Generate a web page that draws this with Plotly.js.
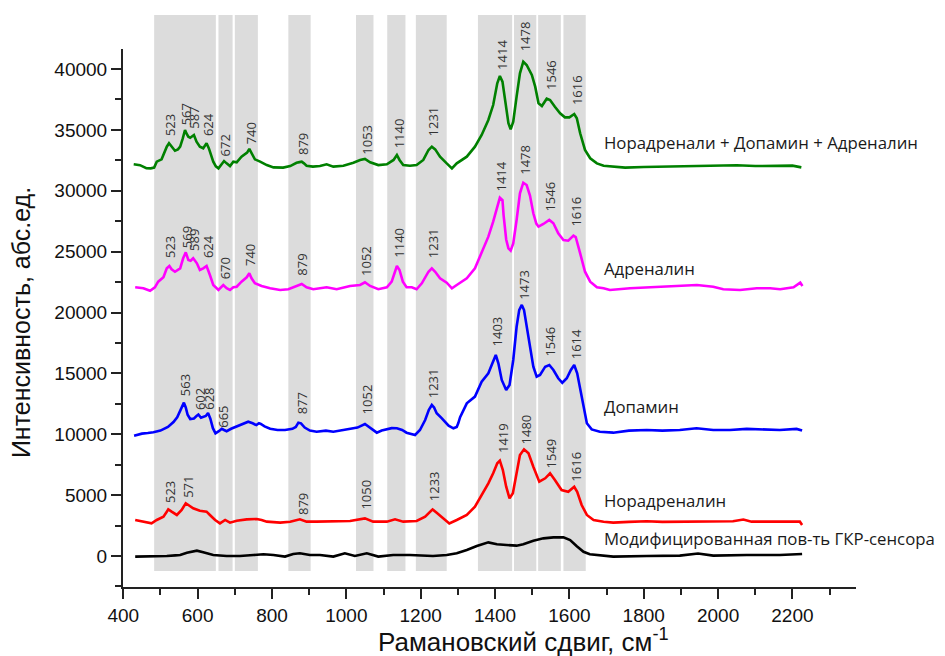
<!DOCTYPE html>
<html>
<head>
<meta charset="utf-8">
<script src="https://cdn.plot.ly/plotly-3.0.1.min.js"></script>
<style>html,body{margin:0;padding:0;background:#fff;}#chart{width:945px;height:656px;}</style>
</head>
<body>
<div id="chart"></div>
<script>
// ---- Data ----
const greenX = [428,445,462,474,483,490,503,512,517,523,530,539,547,553,560,566,570,575,580,584,590,597,606,615,620,624,630,636,642,649,656,665,671,678,687,696,705,718,728,733,739,745,754,768,786,804,830,849,866,874,880,886,893,910,929,947,965,992,1019,1037,1050,1064,1086,1109,1127,1136,1143,1153,1171,1189,1207,1221,1230,1239,1252,1270,1284,1297,1324,1346,1364,1382,1395,1406,1413,1420,1427,1436,1442,1449,1458,1467,1476,1485,1499,1508,1517,1526,1539,1548,1561,1575,1588,1600,1613,1620,1629,1642,1656,1674,1692,1718,1750,1800,1850,1900,1950,2000,2050,2100,2150,2200,2224];
const greenY = [32170,32100,31850,31840,31900,32390,32580,33300,33620,33900,33620,33290,33400,33620,34300,34990,34700,34440,34350,34440,34580,34030,33620,33490,33700,33900,33500,32900,32390,32000,31840,32200,32440,32250,32030,32390,32330,32800,33000,33130,33430,33070,32580,32390,32110,31920,31900,32030,32300,32350,32390,32250,32060,31980,32030,32170,31980,32060,32300,32530,32610,32340,32110,32170,32530,32940,32530,32110,32060,32110,32530,33350,33620,33400,32800,32250,31840,32250,32800,33620,34580,35810,37040,38830,39430,38960,37450,35540,35040,35670,37730,39640,40600,40330,39510,38550,37180,36960,37560,37450,36900,36360,36030,36030,36300,35950,34720,33350,32670,32250,32060,31980,31900,31950,31980,32000,32080,32110,32100,32030,32020,32060,31920];

const magentaX = [432,454,472,485,494,508,517,524,530,539,553,561,568,575,581,588,598,606,615,624,633,642,656,665,669,678,687,696,705,718,732,739,745,754,772,795,822,844,866,880,893,911,947,974,1010,1037,1050,1064,1086,1109,1122,1136,1143,1152,1162,1176,1189,1203,1221,1230,1239,1252,1270,1284,1297,1324,1346,1364,1382,1395,1406,1413,1420,1423,1430,1436,1442,1449,1458,1467,1476,1485,1494,1503,1511,1517,1530,1546,1557,1570,1584,1597,1611,1617,1629,1642,1656,1674,1692,1709,1763,1826,1880,1943,1987,2014,2059,2104,2140,2167,2203,2221,2227];
const magentaY = [22070,21990,21790,22070,22530,22890,23630,23820,23550,23350,23630,24450,24940,24310,24250,24450,24040,23490,23630,23820,23080,22260,21850,22120,22260,21990,21850,22070,22120,22530,22890,23220,22810,22400,22180,21990,21850,21910,22180,22340,22070,21910,22070,21910,22180,22260,22480,22180,21910,22070,22530,23820,23490,22530,22070,22070,21910,22400,23350,23630,23350,22810,22450,21990,22260,22810,23630,24860,26230,27460,28690,29430,29240,28000,26000,25270,25080,25680,27600,29790,30660,30470,29600,28150,27300,27050,27270,27600,27330,26500,25950,25900,26310,26200,24860,23350,22530,22070,21990,21850,21990,22070,22120,22260,22120,21910,21850,21990,21990,21910,22070,22450,22180];

const blueX = [429,450,466,481,500,508,520,526,535,545,552,558,563,568,573,580,590,597,602,609,616,622,628,634,641,648,657,665,671,678,690,703,718,728,736,748,758,765,770,780,795,815,835,855,864,871,878,888,902,920,945,965,990,1010,1030,1050,1065,1082,1095,1109,1122,1136,1150,1162,1178,1185,1198,1212,1222,1230,1236,1243,1257,1265,1275,1288,1297,1301,1306,1324,1346,1364,1382,1391,1402,1409,1418,1430,1439,1449,1458,1465,1472,1478,1485,1494,1503,1512,1521,1535,1546,1557,1570,1581,1593,1604,1613,1621,1631,1640,1647,1660,1682,1718,1760,1808,1850,1897,1942,1987,2032,2077,2122,2166,2211,2226];
const blueY = [9880,10050,10100,10160,10300,10400,10600,10760,11000,11400,11900,12300,12600,12200,11600,11250,11300,11500,11620,11350,11400,11500,11750,11300,10500,10080,10250,10450,10350,10250,10450,10600,10800,10900,11030,10900,10750,10900,10850,10650,10450,10350,10350,10450,10600,10950,10900,10550,10300,10210,10300,10210,10350,10490,10550,10840,10500,10130,10300,10410,10500,10490,10350,10130,10000,9940,10350,11170,12000,12400,12200,11720,11310,11000,10700,10490,10600,10900,11400,12540,13090,14320,15010,15690,16510,15830,14460,13630,14050,16100,18830,20200,20620,20200,18830,16920,15550,14730,14870,15550,15690,15280,14600,14230,14600,15280,15690,15010,13360,11720,10900,10400,10210,10130,10300,10350,10300,10350,10490,10350,10350,10440,10390,10350,10440,10300];

const redX = [432,454,476,490,508,517,521,530,544,557,568,575,588,606,624,633,647,660,674,687,705,732,759,772,786,822,849,875,893,920,965,1010,1050,1072,1109,1131,1153,1189,1212,1224,1232,1243,1261,1277,1297,1324,1346,1364,1382,1395,1406,1413,1421,1430,1439,1448,1457,1467,1478,1490,1503,1519,1535,1548,1561,1579,1597,1613,1621,1633,1647,1665,1692,1718,1760,1808,1850,1900,1950,2000,2040,2068,2090,2130,2170,2220,2226];
const redY = [2960,2820,2680,2960,3230,3640,3830,3640,3370,3780,4330,4190,3920,3720,3640,3370,2960,2680,2960,2740,2900,3010,3040,2960,2820,2740,2820,3010,2820,2820,2820,2880,3090,2820,2820,3010,2820,2880,3230,3600,3830,3560,3090,2680,2960,3370,4050,5010,5970,6790,7610,7830,7060,5690,4740,5150,6790,8300,8760,8440,7330,6100,6380,6790,6240,5420,5280,5690,5280,4190,3370,2960,2820,2740,2800,2850,2800,2820,2780,2800,2850,3000,2820,2820,2800,2820,2550];

const blackX = [432,472,517,540,553,571,590,598,615,642,678,714,750,777,804,835,857,875,902,929,965,996,1023,1055,1086,1126,1171,1233,1270,1297,1324,1351,1382,1405,1431,1458,1476,1503,1530,1557,1584,1602,1620,1638,1655,1682,1718,1808,1897,1946,1987,2077,2166,2226];
const blackY = [-50,-50,0,50,80,270,420,440,300,80,0,0,80,140,80,-50,160,220,80,80,-50,220,0,220,-50,80,80,0,80,220,490,820,1120,960,900,850,960,1260,1450,1530,1530,1310,800,350,150,40,-50,0,30,200,30,80,80,160];

// Shaded bands (Raman shift ranges)
const bandStart = [483,656,700,844,1026,1110,1187,1354,1451,1516,1584];
const bandEnd   = [649,694,762,904,1073,1159,1270,1446,1511,1577,1644];

// Peak labels: position and label-bottom intensity
const greenPeaks  = [523,567,587,624,672,740,879,1053,1140,1231,1414,1478,1546,1616];
const greenPeakY  = [34330,35240,34910,34330,32690,33620,32800,32800,33350,34310,39780,41290,38140,36900];
const magentaPeaks = [523,569,589,624,670,740,879,1052,1140,1231,1414,1478,1546,1616];
const magentaPeakY = [24310,25130,24860,24310,22530,23630,22890,22810,24370,24310,29790,31150,28150,26920];
const bluePeaks  = [563,602,628,665,877,1052,1231,1403,1473,1546,1614];
const bluePeakY  = [12950,11850,11850,10350,11440,11440,12810,17060,20890,16240,15960];
const redPeaks   = [523,571,879,1050,1233,1419,1480,1549,1616];
const redPeakY   = [4190,4600,3230,3640,4330,8300,8980,7060,5970];

// Series names and label positions
const seriesNames = ['Норадренали + Допамин + Адреналин','Адреналин','Допамин','Норадреналин','Модифицированная пов-ть ГКР-сенсора'];
const seriesLabelX = [1688,1688,1688,1688,1688];
const seriesLabelY = [33950,23630,12260,4600,1450];
const seriesColors = ['#008000','#ff00ff','#0000ff','#ff0000','#000000'];

const xTitle = 'Рамановский сдвиг, см<sup>-1</sup>';
const yTitle = 'Интенсивность, абс.ед.';

// ---- Traces ----
const seriesData = [[greenX,greenY],[magentaX,magentaY],[blueX,blueY],[redX,redY],[blackX,blackY]];
const traces = seriesData.map((d,i) => ({
  x: d[0], y: d[1], type: 'scatter', mode: 'lines',
  line: {color: seriesColors[i], width: 2.6},
  name: seriesNames[i], showlegend: false, hoverinfo: 'x+y'
}));

const shapes = bandStart.map((s,i) => ({
  type: 'rect', xref: 'x', yref: 'paper', x0: s, x1: bandEnd[i], y0: 0.0297, y1: 1.063,
  fillcolor: '#dcdcdc', line: {width: 0}, layer: 'below'
}));

const annotations = [];
const peakSets = [[greenPeaks,greenPeakY],[magentaPeaks,magentaPeakY],[bluePeaks,bluePeakY],[redPeaks,redPeakY]];
peakSets.forEach(ps => {
  ps[0].forEach((p,i) => {
    annotations.push({
      x: p, y: ps[1][i], xref: 'x', yref: 'y', text: String(p), showarrow: false,
      textangle: -90, xanchor: 'center', yanchor: 'bottom', xshift: 1,
      font: {family: 'Open Sans, sans-serif', size: 13, color: '#333'}
    });
  });
});
seriesNames.forEach((n,i) => {
  annotations.push({
    x: seriesLabelX[i], y: seriesLabelY[i], xref: 'x', yref: 'y', text: n, showarrow: false,
    xanchor: 'left', yanchor: 'middle',
    font: {family: 'Open Sans, sans-serif', size: 16.8, color: '#1a1a1a'}
  });
});
annotations.push({
  x: 0.547, y: -0.099, xref: 'paper', yref: 'paper', text: xTitle, showarrow: false,
  xanchor: 'center', yanchor: 'middle',
  font: {family: 'Liberation Sans, Arial, sans-serif', size: 26, color: '#111'}
});
annotations.push({
  x: -0.139, y: 0.4907, xref: 'paper', yref: 'paper', text: yTitle, showarrow: false,
  textangle: -90, xanchor: 'center', yanchor: 'middle',
  font: {family: 'Liberation Sans, Arial, sans-serif', size: 25, color: '#111'}
});

const axisCommon = {
  showline: true, linecolor: '#222', linewidth: 2, mirror: false,
  ticks: 'outside', ticklen: 10, tickwidth: 2, tickcolor: '#222',
  showgrid: false, zeroline: false,
  tickfont: {family: 'Liberation Sans, Arial, sans-serif', size: 19, color: '#111'}
};

const layout = {
  width: 945, height: 656,
  margin: {l: 123, r: 89, t: 49, b: 69, pad: 0},
  paper_bgcolor: '#fff', plot_bgcolor: 'rgba(0,0,0,0)',
  xaxis: Object.assign({}, axisCommon, {
    range: [399.2, 2371], tick0: 400, dtick: 200,
    minor: {dtick: 100, ticks: 'outside', ticklen: 6, tickwidth: 2, tickcolor: '#222', showgrid: false}
  }),
  yaxis: Object.assign({}, axisCommon, {
    range: [-2546, 41643], tick0: 0, dtick: 5000, tickformat: 'd',
    minor: {dtick: 2500, ticks: 'outside', ticklen: 6, tickwidth: 2, tickcolor: '#222', showgrid: false}
  }),
  shapes: shapes,
  annotations: annotations
};

Plotly.newPlot('chart', traces, layout, {displayModeBar: false, staticPlot: true});
</script>
</body>
</html>
